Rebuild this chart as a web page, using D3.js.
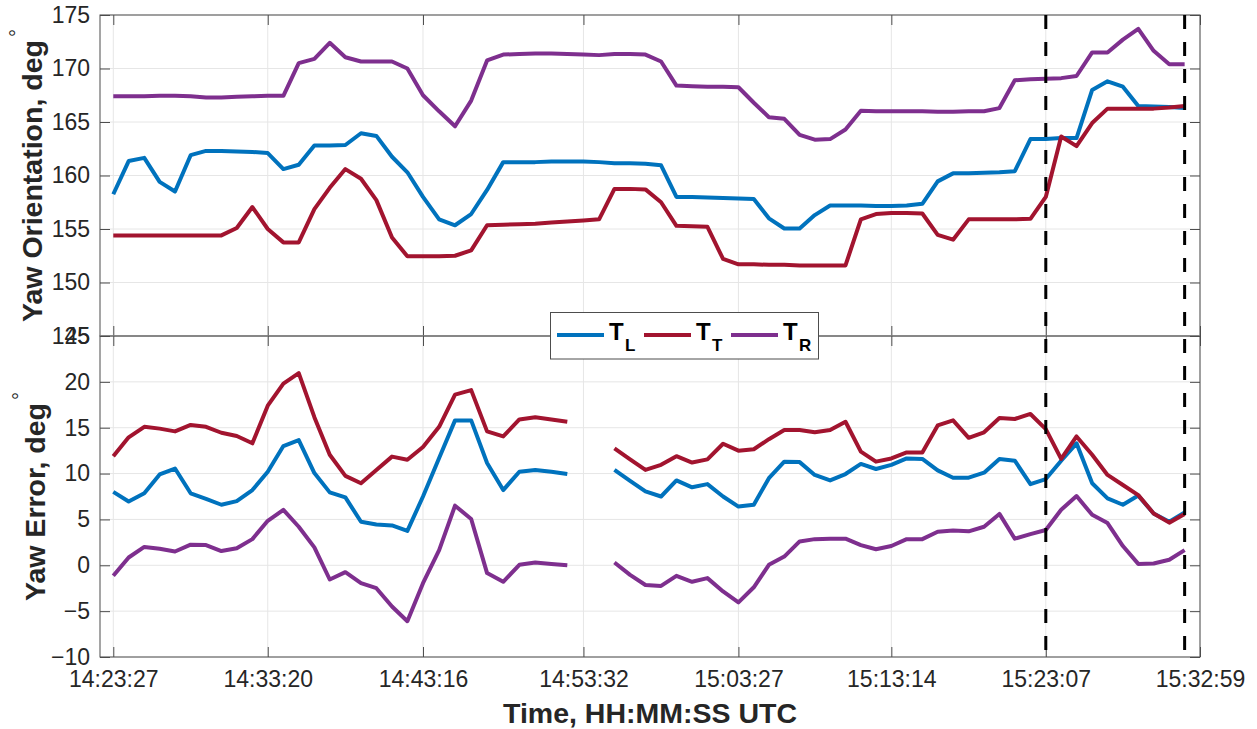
<!DOCTYPE html>
<html lang="en">
<head>
    <meta charset="UTF-8">
    <title>Yaw Orientation and Error</title>
    <script src="https://d3js.org/d3.v7.min.js"></script>
    <style>
        body { margin: 0; background: #fff; }
        text { font-family: "Liberation Sans", Arial, Helvetica, sans-serif; fill: #262626; }
    </style>
</head>
<body>
<svg id="chart"></svg>
<script>
    // sample timestamps (UTC)
    times = ["14:23:27", "14:24:26", "14:25:26", "14:26:25", "14:27:24", "14:28:24", "14:29:23", "14:30:22", "14:31:21", "14:32:21",
        "14:33:20", "14:34:20", "14:35:19", "14:36:19", "14:37:18", "14:38:18", "14:39:18", "14:40:17", "14:41:17", "14:42:16",
        "14:43:16", "14:44:18", "14:45:19", "14:46:21", "14:47:22", "14:48:24", "14:49:26", "14:50:27", "14:51:29", "14:52:30",
        "14:53:32", "14:54:32", "14:55:31", "14:56:31", "14:57:30", "14:58:30", "14:59:29", "15:00:29", "15:01:28", "15:02:28",
        "15:03:27", "15:04:26", "15:05:24", "15:06:23", "15:07:22", "15:08:20", "15:09:19", "15:10:18", "15:11:17", "15:12:15",
        "15:13:14", "15:14:13", "15:15:13", "15:16:12", "15:17:11", "15:18:11", "15:19:10", "15:20:09", "15:21:08", "15:22:08",
        "15:23:07", "15:24:06", "15:25:05", "15:26:05", "15:27:04", "15:28:03", "15:29:02", "15:30:01", "15:31:01", "15:32:00"];

    // yaw orientation, deg
    yawL = [158.25, 161.35, 161.65, 159.4, 158.5, 161.9, 162.3, 162.3, 162.25, 162.2,
        162.1, 160.6, 161.0, 162.8, 162.8, 162.85, 163.95, 163.7, 161.75, 160.3,
        158.0, 155.9, 155.35, 156.4, 158.65, 161.25, 161.25, 161.25, 161.3, 161.3,
        161.3, 161.25, 161.15, 161.15, 161.1, 160.95, 158.0, 158.0, 157.95, 157.9,
        157.85, 157.8, 156.0, 155.05, 155.05, 156.3, 157.2, 157.2, 157.2, 157.15,
        157.15, 157.2, 157.35, 159.45, 160.2, 160.2, 160.25, 160.3, 160.4, 163.4,
        163.4, 163.5, 163.5, 168.0, 168.8, 168.3, 166.5, 166.45, 166.4, 166.3];
    yawT = [154.4, 154.4, 154.4, 154.4, 154.4, 154.4, 154.4, 154.4, 155.1, 157.05,
        155.0, 153.75, 153.75, 156.85, 158.85, 160.6, 159.7, 157.7, 154.2, 152.45,
        152.45, 152.45, 152.5, 153.0, 155.35, 155.4, 155.45, 155.5, 155.6, 155.7,
        155.8, 155.9, 158.75, 158.75, 158.7, 157.5, 155.3, 155.25, 155.2, 152.2,
        151.7, 151.7, 151.65, 151.65, 151.6, 151.6, 151.6, 151.6, 155.9, 156.4,
        156.5, 156.5, 156.45, 154.45, 154.0, 155.9, 155.9, 155.9, 155.9, 155.95,
        158.0, 163.65, 162.75, 164.9, 166.25, 166.25, 166.25, 166.25, 166.35, 166.5];
    yawR = [167.4, 167.4, 167.4, 167.45, 167.45, 167.4, 167.3, 167.3, 167.35, 167.4,
        167.45, 167.45, 170.5, 170.9, 172.4, 171.05, 170.65, 170.65, 170.65, 170.0,
        167.5, 166.0, 164.6, 167.0, 170.75, 171.3, 171.35, 171.4, 171.4, 171.35,
        171.3, 171.25, 171.35, 171.35, 171.3, 170.65, 168.4, 168.35, 168.3, 168.3,
        168.25, 166.8, 165.45, 165.3, 163.8, 163.35, 163.4, 164.3, 166.05, 166.0,
        166.0, 166.0, 166.0, 165.95, 165.95, 166.0, 166.0, 166.3, 168.9, 169.0,
        169.05, 169.1, 169.3, 171.5, 171.5, 172.7, 173.7, 171.65, 170.4, 170.4];

    // yaw error, deg (null = no data)
    errL = [8.0, 6.95, 7.85, 9.9, 10.55, 7.85, 7.25, 6.6, 7.0, 8.2,
        10.2, 13.0, 13.65, 10.05, 7.95, 7.4, 4.75, 4.45, 4.35, 3.75,
        7.5, 11.7, 15.8, 15.8, 11.15, 8.2, 10.2, 10.4, 10.2, 9.95,
        null, null, 10.4, 9.2, 8.05, 7.5, 9.25, 8.5, 8.85, 7.5,
        6.4, 6.6, 9.5, 11.3, 11.25, 9.85, 9.25, 9.95, 11.05, 10.5,
        10.95, 11.65, 11.6, 10.35, 9.55, 9.55, 10.1, 11.6, 11.4, 8.85,
        9.4, 11.4, 13.3, 8.95, 7.3, 6.6, 7.6, 5.65, 4.75, 5.75];
    errT = [11.9, 13.95, 15.1, 14.9, 14.6, 15.3, 15.1, 14.45, 14.1, 13.3,
        17.4, 19.8, 20.95, 16.15, 12.05, 9.75, 8.95, 10.4, 11.85, 11.5,
        12.9, 15.1, 18.6, 19.1, 14.6, 14.05, 15.9, 16.15, 15.9, 15.65,
        null, null, 12.75, 11.55, 10.4, 10.95, 11.9, 11.2, 11.55, 13.25,
        12.5, 12.65, 13.75, 14.75, 14.75, 14.5, 14.75, 15.65, 12.4, 11.3,
        11.65, 12.3, 12.3, 15.25, 15.8, 13.9, 14.5, 16.05, 15.95, 16.5,
        14.85, 11.6, 14.05, 12.05, 9.85, 8.75, 7.65, 5.65, 4.65, 5.6];
    errR = [-1.15, 0.85, 2.0, 1.8, 1.5, 2.25, 2.2, 1.55, 1.85, 2.85,
        4.85, 6.05, 4.2, 1.95, -1.55, -0.75, -1.95, -2.5, -4.5, -6.1,
        -1.95, 1.65, 6.5, 5.05, -0.85, -1.8, 0.05, 0.3, 0.15, 0.0,
        null, null, 0.3, -1.05, -2.15, -2.25, -1.15, -1.8, -1.4, -2.85,
        -4.05, -2.4, 0.05, 0.95, 2.6, 2.85, 2.9, 2.9, 2.2, 1.75,
        2.1, 2.85, 2.85, 3.65, 3.8, 3.7, 4.2, 5.6, 2.9, 3.4,
        3.85, 6.05, 7.55, 5.5, 4.6, 2.1, 0.15, 0.2, 0.6, 1.65];

    xTicks = ["14:23:27", "14:33:20", "14:43:16", "14:53:32", "15:03:27", "15:13:14", "15:23:07", "15:32:59"];
    xLimits = ["14:22:36", "15:32:59"];
    markers = ["15:23:07", "15:32:00"];  // dashed vertical lines

    seriesNames = ["L", "T", "R"];
    seriesColors = ["#0072BD", "#A2142F", "#7E2F8E"];

    parseTime = d3.timeParse("%H:%M:%S");
    dates = times.map(parseTime);

    W = 1257;
    H = 729;
    left = 100;
    right = 1200;

    svg = d3.select("#chart")
        .attr("width", W)
        .attr("height", H);

    xScale = d3.scaleTime()
        .domain(xLimits.map(parseTime))
        .range([left, right]);

    panels = [
        {top: 15, bottom: 336, domain: [145, 175], ticks: d3.range(145, 176, 5),
            series: [yawL, yawT, yawR], label: "Yaw Orientation, deg", labelX: 42},
        {top: 336, bottom: 657, domain: [-10, 25], ticks: d3.range(-10, 26, 5),
            series: [errL, errT, errR], label: "Yaw Error, deg", labelX: 45}
    ];

    panels.forEach(function (p, pi) {
        let yScale = d3.scaleLinear().domain(p.domain).range([p.bottom, p.top]);
        let g = svg.append("g");

        // grid
        g.append("g")
            .selectAll("line.hgrid")
            .data(p.ticks)
            .join("line")
            .attr("x1", left).attr("x2", right)
            .attr("y1", d => yScale(d)).attr("y2", d => yScale(d))
            .attr("stroke", "#e6e6e6");
        g.append("g")
            .selectAll("line.vgrid")
            .data(xTicks.map(parseTime))
            .join("line")
            .attr("x1", d => xScale(d)).attr("x2", d => xScale(d))
            .attr("y1", p.top).attr("y2", p.bottom)
            .attr("stroke", "#e6e6e6");

        // data lines
        let line = d3.line()
            .defined(d => d.v !== null)
            .x(d => xScale(d.t))
            .y(d => yScale(d.v));
        p.series.forEach(function (vals, si) {
            g.append("path")
                .datum(vals.map((v, i) => ({t: dates[i], v: v})))
                .attr("fill", "none")
                .attr("stroke", seriesColors[si])
                .attr("stroke-width", 4)
                .attr("stroke-linejoin", "round")
                .attr("d", line);
        });

        // axes, ticks point inward like MATLAB
        let axes = g.append("g").attr("class", "axes");
        axes.append("g")
            .attr("transform", `translate(${left},0)`)
            .call(d3.axisLeft(yScale).tickValues(p.ticks).tickSize(-10).tickPadding(10));
        axes.append("g")
            .attr("transform", `translate(${right},0)`)
            .call(d3.axisRight(yScale).tickValues(p.ticks).tickSize(-10).tickFormat(""));
        axes.append("g")
            .attr("transform", `translate(0,${p.top})`)
            .call(d3.axisTop(xScale).tickValues(xTicks.map(parseTime)).tickSize(-10).tickFormat(""));
        let xAxis = d3.axisBottom(xScale).tickValues(xTicks.map(parseTime)).tickSize(-10).tickPadding(14);
        xAxis.tickFormat(pi === 1 ? d3.timeFormat("%H:%M:%S") : "");
        axes.append("g")
            .attr("transform", `translate(0,${p.bottom})`)
            .call(xAxis);

        axes.selectAll(".domain").remove();
        axes.selectAll(".tick line").attr("stroke", "#4d4d4d");
        axes.selectAll(".tick text")
            .attr("fill", "#262626")
            .style("font-size", "23px");

        g.append("rect")
            .attr("x", left).attr("y", p.top)
            .attr("width", right - left).attr("height", p.bottom - p.top)
            .attr("fill", "none")
            .attr("stroke", "#4d4d4d");

        // y label with superscript degree
        let lab = g.append("text")
            .attr("transform", `translate(${p.labelX},${(p.top + p.bottom) / 2}) rotate(-90)`)
            .attr("text-anchor", "middle")
            .style("font-size", "28.5px")
            .style("font-weight", "bold");
        lab.append("tspan").text(p.label);
        lab.append("tspan")
            .attr("dy", -18)
            .attr("dx", 3)
            .style("font-size", "20px")
            .style("font-weight", "normal")
            .text("°");
    });

    // dashed markers across both panels
    svg.append("g")
        .selectAll("line")
        .data(markers.map(parseTime))
        .join("line")
        .attr("x1", d => xScale(d)).attr("x2", d => xScale(d))
        .attr("y1", 15).attr("y2", 657)
        .attr("stroke", "#000")
        .attr("stroke-width", 3)
        .attr("stroke-dasharray", "14,13");

    svg.append("text")
        .attr("x", (left + right) / 2)
        .attr("y", 723)
        .attr("text-anchor", "middle")
        .style("font-size", "28.5px")
        .style("font-weight", "bold")
        .text("Time, HH:MM:SS UTC");

    // legend
    legend = svg.append("g").attr("transform", "translate(550.5,312.5)");
    legend.append("rect")
        .attr("width", 268).attr("height", 46.5)
        .attr("fill", "#fff")
        .attr("stroke", "#4d4d4d");
    entries = legend.selectAll("g.entry")
        .data(seriesNames)
        .join("g")
        .attr("transform", (d, i) => `translate(${6.5 + i * 87},0)`);
    entries.append("line")
        .attr("x1", 0).attr("x2", 47)
        .attr("y1", 22.5).attr("y2", 22.5)
        .attr("stroke", (d, i) => seriesColors[i])
        .attr("stroke-width", 4);
    entries.append("text")
        .attr("x", 52).attr("y", 27)
        .style("font-size", "24px")
        .style("font-weight", "bold")
        .style("fill", "#000")
        .text("T");
    entries.append("text")
        .attr("x", 68).attr("y", 38.5)
        .style("font-size", "17px")
        .style("font-weight", "bold")
        .style("fill", "#000")
        .text(d => d);
</script>
</body>
</html>
